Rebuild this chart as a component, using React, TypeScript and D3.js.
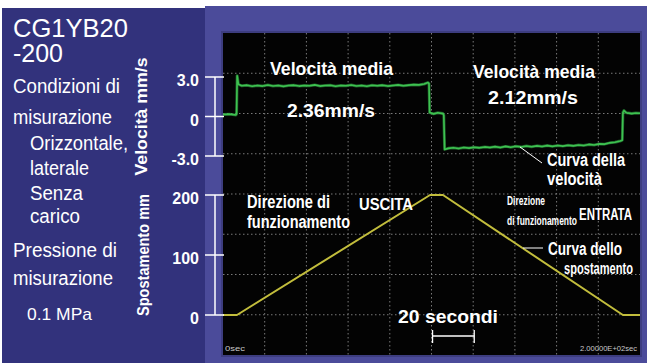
import React from "react";
import * as d3 from "d3";

// ---- data ----
const timeDomain = [0, 200]; // seconds across the screen (10 div x 20 s)
const velocityTicks = [3.0, 0, -3.0];
const velocityTickLabels = ["3.0", "0", "-3.0"];
const displacementTicks = [200, 100, 0];
const displacementTickLabels = ["200", "100", "0"];

// displacement curve [t (s), mm]
const displacement: [number, number][] = [
  [0, 0], [6.7, 0], [99.3, 200], [105.5, 200], [191.8, 0], [200, 0],
];

// velocity curve [t (s), mm/s]
const velocity: [number, number][] = [
  [0, 0.15], [3, 0.18], [6.2, 0.12], [6.5, 0.2], [6.8, 3.1], [7.4, 2.45],
  [9, 2.33], [11.5, 2.38], [14, 2.3], [16.5, 2.36], [19, 2.31], [21.5, 2.39],
  [24, 2.32], [26.5, 2.36], [29, 2.29], [31.5, 2.35], [34, 2.38], [36.5, 2.31],
  [39, 2.36], [41.5, 2.33], [44, 2.4], [46.5, 2.31], [49, 2.35], [51.5, 2.37],
  [54, 2.3], [56.5, 2.36], [59, 2.33], [61.5, 2.39], [64, 2.32], [66.5, 2.35],
  [69, 2.3], [71.5, 2.37], [74, 2.34], [76.5, 2.38], [79, 2.31], [81.5, 2.36],
  [84, 2.4], [86.5, 2.33], [89, 2.38], [91.5, 2.42], [94, 2.4], [96.5, 2.47],
  [98.3, 2.58], [98.8, 2.5], [99.1, 0.3], [101, 0.2], [103, 0.28], [105.5, 0.22],
  [105.9, 0.1], [106.3, -2.5], [108, -2.42], [110.5, -2.37], [113, -2.43],
  [115.5, -2.35], [118, -2.4], [120.5, -2.33], [123, -2.38], [125.5, -2.31],
  [128, -2.36], [130.5, -2.29], [133, -2.35], [135.5, -2.27], [138, -2.33],
  [140.5, -2.26], [143, -2.31], [145.5, -2.24], [148, -2.3], [150.5, -2.23],
  [153, -2.28], [155.5, -2.21], [158, -2.27], [160.5, -2.2], [163, -2.25],
  [165.5, -2.18], [168, -2.23], [170.5, -2.16], [173, -2.2], [175.5, -2.12],
  [178, -2.16], [180.5, -2.08], [183, -2.1], [185.5, -2.0], [188, -1.96],
  [190.5, -1.86], [191.5, -1.8], [191.8, 0.3], [192.3, 0.45], [193.5, 0.28],
  [196, 0.22], [198, 0.27], [200, 0.25],
];

const scaleBarStart = 100.5;
const scaleBarLength = 20;

const leftPanelLines = [
  { text: "CG1YB20", x: 13, y: 37, w: 115, size: 25 },
  { text: "-200", x: 13, y: 62, w: 50, size: 25 },
  { text: "Condizioni di", x: 13, y: 93, w: 107, size: 20 },
  { text: "misurazione", x: 13, y: 124, w: 99, size: 20 },
  { text: "Orizzontale,", x: 30, y: 150, w: 98, size: 20 },
  { text: "laterale", x: 30, y: 175, w: 59, size: 20 },
  { text: "Senza", x: 30, y: 200, w: 53, size: 20 },
  { text: "carico", x: 30, y: 223, w: 50, size: 20 },
  { text: "Pressione di", x: 13, y: 257, w: 104, size: 20 },
  { text: "misurazione", x: 13, y: 285, w: 100, size: 20 },
  { text: "0.1 MPa", x: 27, y: 320, w: 65, size: 17 },
];

const plotLabels = [
  { text: "Velocità media", x: 270, y: 75, w: 123, size: 19 },
  { text: "2.36mm/s", x: 287, y: 117, w: 88, size: 18 },
  { text: "Velocità media", x: 473, y: 78, w: 122, size: 19 },
  { text: "2.12mm/s", x: 488, y: 104, w: 90, size: 18 },
  { text: "Curva della", x: 547, y: 166, w: 78, size: 18 },
  { text: "velocità", x: 547, y: 185, w: 55, size: 18 },
  { text: "Direzione di", x: 247, y: 208, w: 83, size: 18 },
  { text: "funzionamento", x: 247, y: 228, w: 103, size: 18 },
  { text: "USCITA", x: 359, y: 210, w: 54, size: 17 },
  { text: "Direzione", x: 507, y: 205, w: 38, size: 13 },
  { text: "di funzionamento", x: 507, y: 225, w: 70, size: 13 },
  { text: "ENTRATA", x: 579, y: 220, w: 53, size: 16 },
  { text: "Curva dello", x: 548, y: 255, w: 74, size: 18 },
  { text: "spostamento", x: 564, y: 274, w: 69, size: 17 },
  { text: "20 secondi", x: 398, y: 323, w: 100, size: 19 },
];

const FONT = "'Liberation Sans', Arial, Helvetica, sans-serif";

export default function App() {
  const W = 647;
  const H = 363;
  const plot = { x0: 223, x1: 640, y0: 33, y1: 355 };

  const x = d3.scaleLinear().domain(timeDomain).range([plot.x0, plot.x1]);
  const yV = d3.scaleLinear().domain([-3, 3]).range([156, 77]);
  const yD = d3.scaleLinear().domain([0, 200]).range([315, 195]);
  const gridY = d3.scaleLinear().domain([0, 8]).range([plot.y0, plot.y1]);

  const lineV = d3
    .line<[number, number]>()
    .x((d) => x(d[0]))
    .y((d) => yV(d[1]));
  const lineD = d3
    .line<[number, number]>()
    .x((d) => x(d[0]))
    .y((d) => yD(d[1]));

  const vGrid = d3.range(20, 200, 20);
  const hGrid = d3.range(1, 8);
  const axisX = 215;
  const tickX0 = 205;
  const tickX1 = 224;

  const barY = 336;
  const bx0 = x(scaleBarStart);
  const bx1 = x(scaleBarStart + scaleBarLength);

  return (
    <svg
      width={W}
      height={H}
      style={{ position: "absolute", left: 0, top: 0, display: "block" }}
      fontFamily={FONT}
    >
      <rect x={0} y={0} width={W} height={H} fill="#ffffff" />
      {/* left navy panel */}
      <rect x={2} y={8} width={210} height={H - 8} fill="#32327c" />
      {/* oscilloscope frame */}
      <rect x={205} y={6} width={W - 205} height={H - 6} fill="#4b4b9a" />
      <rect x={plot.x0 - 2} y={plot.y0 - 2} width={plot.x1 - plot.x0 + 4} height={plot.y1 - plot.y0 + 4} fill="#3d3d80" />
      {/* black screen */}
      <rect x={plot.x0} y={plot.y0} width={plot.x1 - plot.x0} height={plot.y1 - plot.y0} fill="#030303" />

      {/* grid */}
      <g stroke="#7a7a7a" strokeWidth={1} strokeDasharray="1.5,2.5">
        {vGrid.map((t) => (
          <line key={"v" + t} x1={x(t)} x2={x(t)} y1={plot.y0} y2={plot.y1} />
        ))}
        {hGrid.map((k) => (
          <line key={"h" + k} x1={plot.x0} x2={plot.x1} y1={gridY(k)} y2={gridY(k)} />
        ))}
      </g>

      {/* curves */}
      <path d={lineD(displacement) || ""} fill="none" stroke="#c2bd3c" strokeWidth={2} strokeLinejoin="round" />
      <path d={lineV(velocity) || ""} fill="none" stroke="#2f9a40" strokeWidth={3} strokeOpacity={0.6} strokeLinejoin="round" />
      <path d={lineV(velocity) || ""} fill="none" stroke="#3ec251" strokeWidth={1.6} strokeLinejoin="round" />

      {/* axes */}
      <g stroke="#ffffff" strokeWidth={1.5}>
        <line x1={axisX} x2={axisX} y1={yV(3)} y2={yV(-3)} />
        {velocityTicks.map((v) => (
          <line key={"vt" + v} x1={tickX0} x2={tickX1} y1={yV(v)} y2={yV(v)} />
        ))}
        <line x1={axisX} x2={axisX} y1={yD(200)} y2={yD(0)} />
        {displacementTicks.map((v) => (
          <line key={"dt" + v} x1={tickX0} x2={tickX1} y1={yD(v)} y2={yD(v)} />
        ))}
      </g>
      <g fill="#ffffff" fontWeight="bold" fontSize={16} textAnchor="end">
        {velocityTicks.map((v, i) => (
          <text key={"vl" + v} x={199} y={yV(v) + 9}>
            {velocityTickLabels[i]}
          </text>
        ))}
        {displacementTicks.map((v, i) => (
          <text key={"dl" + v} x={199} y={yD(v) + 9}>
            {displacementTickLabels[i]}
          </text>
        ))}
      </g>

      {/* axis titles */}
      <text
        transform={`translate(152, ${(yV(3) + yV(-3)) / 2}) rotate(-90)`}
        textAnchor="middle"
        fill="#fff"
        fontWeight="bold"
        fontSize={17}
        textLength={118}
        lengthAdjust="spacingAndGlyphs"
        dy={-5}
        x={0}
        y={0}
      >
        Velocità mm/s
      </text>
      <text
        transform={`translate(149, ${(yD(200) + yD(0)) / 2}) rotate(-90)`}
        textAnchor="middle"
        fill="#fff"
        fontWeight="bold"
        fontSize={17}
        textLength={122}
        lengthAdjust="spacingAndGlyphs"
      >
        Spostamento mm
      </text>

      {/* left panel texts */}
      <g fill="#ffffff">
        {leftPanelLines.map((l, i) => (
          <text key={"lp" + i} x={l.x} y={l.y} fontSize={l.size} textLength={l.w} lengthAdjust="spacingAndGlyphs">
            {l.text}
          </text>
        ))}
      </g>

      {/* plot annotations */}
      <g fill="#ffffff" fontWeight="bold">
        {plotLabels.map((l, i) => (
          <text key={"pl" + i} x={l.x} y={l.y} fontSize={l.size} textLength={l.w} lengthAdjust="spacingAndGlyphs">
            {l.text}
          </text>
        ))}
      </g>
      <g stroke="#ffffff" strokeWidth={1}>
        <line x1={520} y1={147} x2={542} y2={163} />
        <line x1={523} y1={248} x2={543} y2={248} />
      </g>

      {/* 20 s scale bar */}
      <g stroke="#ffffff" strokeWidth={1.3}>
        <line x1={bx0} x2={bx1} y1={barY} y2={barY} />
        <line x1={bx0} x2={bx0} y1={barY - 6} y2={barY + 7} />
        <line x1={bx1} x2={bx1} y1={barY - 6} y2={barY + 7} />
      </g>

      {/* tiny scope labels */}
      <g fill="#c8c8c8" fontSize={8}>
        <text x={225} y={351} textLength={20} lengthAdjust="spacingAndGlyphs">0sec</text>
        <text x={580} y={351} textLength={57} lengthAdjust="spacingAndGlyphs">2.00000E+02sec</text>
      </g>
    </svg>
  );
}
